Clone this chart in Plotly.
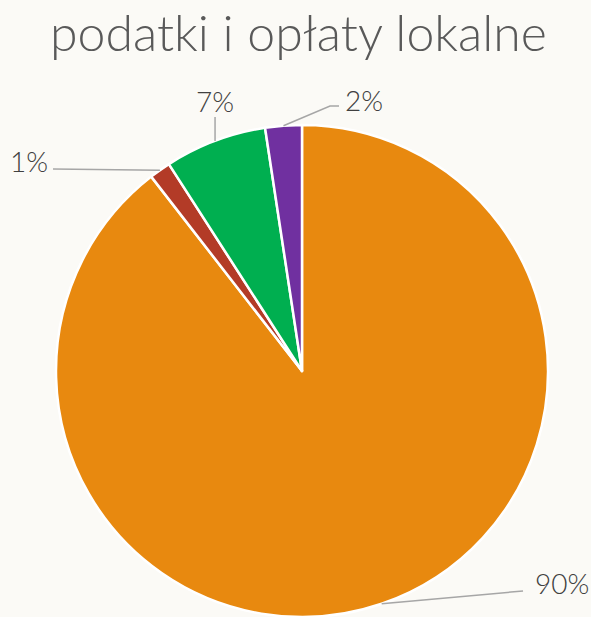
import math
import plotly.graph_objects as go

# ---- data ----
categories = ["kategoria A", "kategoria B", "kategoria C", "kategoria D"]
values = [89.5, 1.4, 6.7, 2.4]
colors = ["#E8890F", "#B33B27", "#00AF50", "#7030A0"]
title_text = "podatki i opłaty lokalne"

# ---- layout constants (pixels) ----
W, H = 591, 617
CX, CY, R = 302, 371, 246
BG = "#FBFAF6"
LINE_COLOR = "#A6A6A6"
LABEL_COLOR = "#404040"
FONT = "Lato, 'DejaVu Sans', sans-serif"

# label placement per slice: (elbow x, elbow y, end x, end y, text x, text y, xanchor)
label_layout = [
    (523, 591, 523, 591, 533, 583, "left"),
    (53, 169, 53, 169, 50, 161, "right"),
    (None, None, None, 117, None, 101, "center"),
    (330, 106, 339, 106, 343, 100, "left"),
]


def px(x):
    return x / W


def py(y):
    return 1 - y / H


fig = go.Figure(
    go.Pie(
        labels=categories,
        values=values,
        sort=False,
        direction="clockwise",
        rotation=0,
        marker=dict(colors=colors, line=dict(color="white", width=2.5)),
        textinfo="none",
        hoverinfo="label+percent",
        showlegend=False,
        domain=dict(x=[px(CX - R), px(CX + R)], y=[py(CY + R), py(CY - R)]),
    )
)

total = sum(values)
cum = 0.0
shapes = []
annotations = []
for v, lay in zip(values, label_layout):
    mid = (cum + v / 2) / total * 2 * math.pi
    cum += v
    ex = CX + R * math.sin(mid)
    ey = CY - R * math.cos(mid)
    elx, ely, endx, endy, tx, ty, anchor = lay
    if elx is None:
        elx, endx, tx = ex, ex, ex
        ely = endy
    path = f"M {px(ex)} {py(ey)} L {px(elx)} {py(ely)} L {px(endx)} {py(endy)}"
    shapes.append(dict(type="path", xref="paper", yref="paper", path=path,
                       line=dict(color=LINE_COLOR, width=1.5)))
    pct = v / total * 100
    annotations.append(dict(
        x=px(tx), y=py(ty), xref="paper", yref="paper",
        text=f"{pct:.0f}%", showarrow=False, xanchor=anchor, yanchor="middle",
        font=dict(family=FONT, size=28, color=LABEL_COLOR, weight=300),
    ))

fig.update_layout(
    width=W, height=H,
    margin=dict(l=0, r=0, t=0, b=0),
    paper_bgcolor=BG, plot_bgcolor=BG,
    title=dict(text=title_text, x=0.505, xanchor="center", y=py(33), yanchor="middle",
               font=dict(family=FONT, size=50, color="#595959", weight=300)),
    shapes=shapes,
    annotations=annotations,
)

fig.write_html("out.html", config={"displayModeBar": False},
               post_script="document.body.style.margin='0';document.body.style.background='%s';" % BG)
